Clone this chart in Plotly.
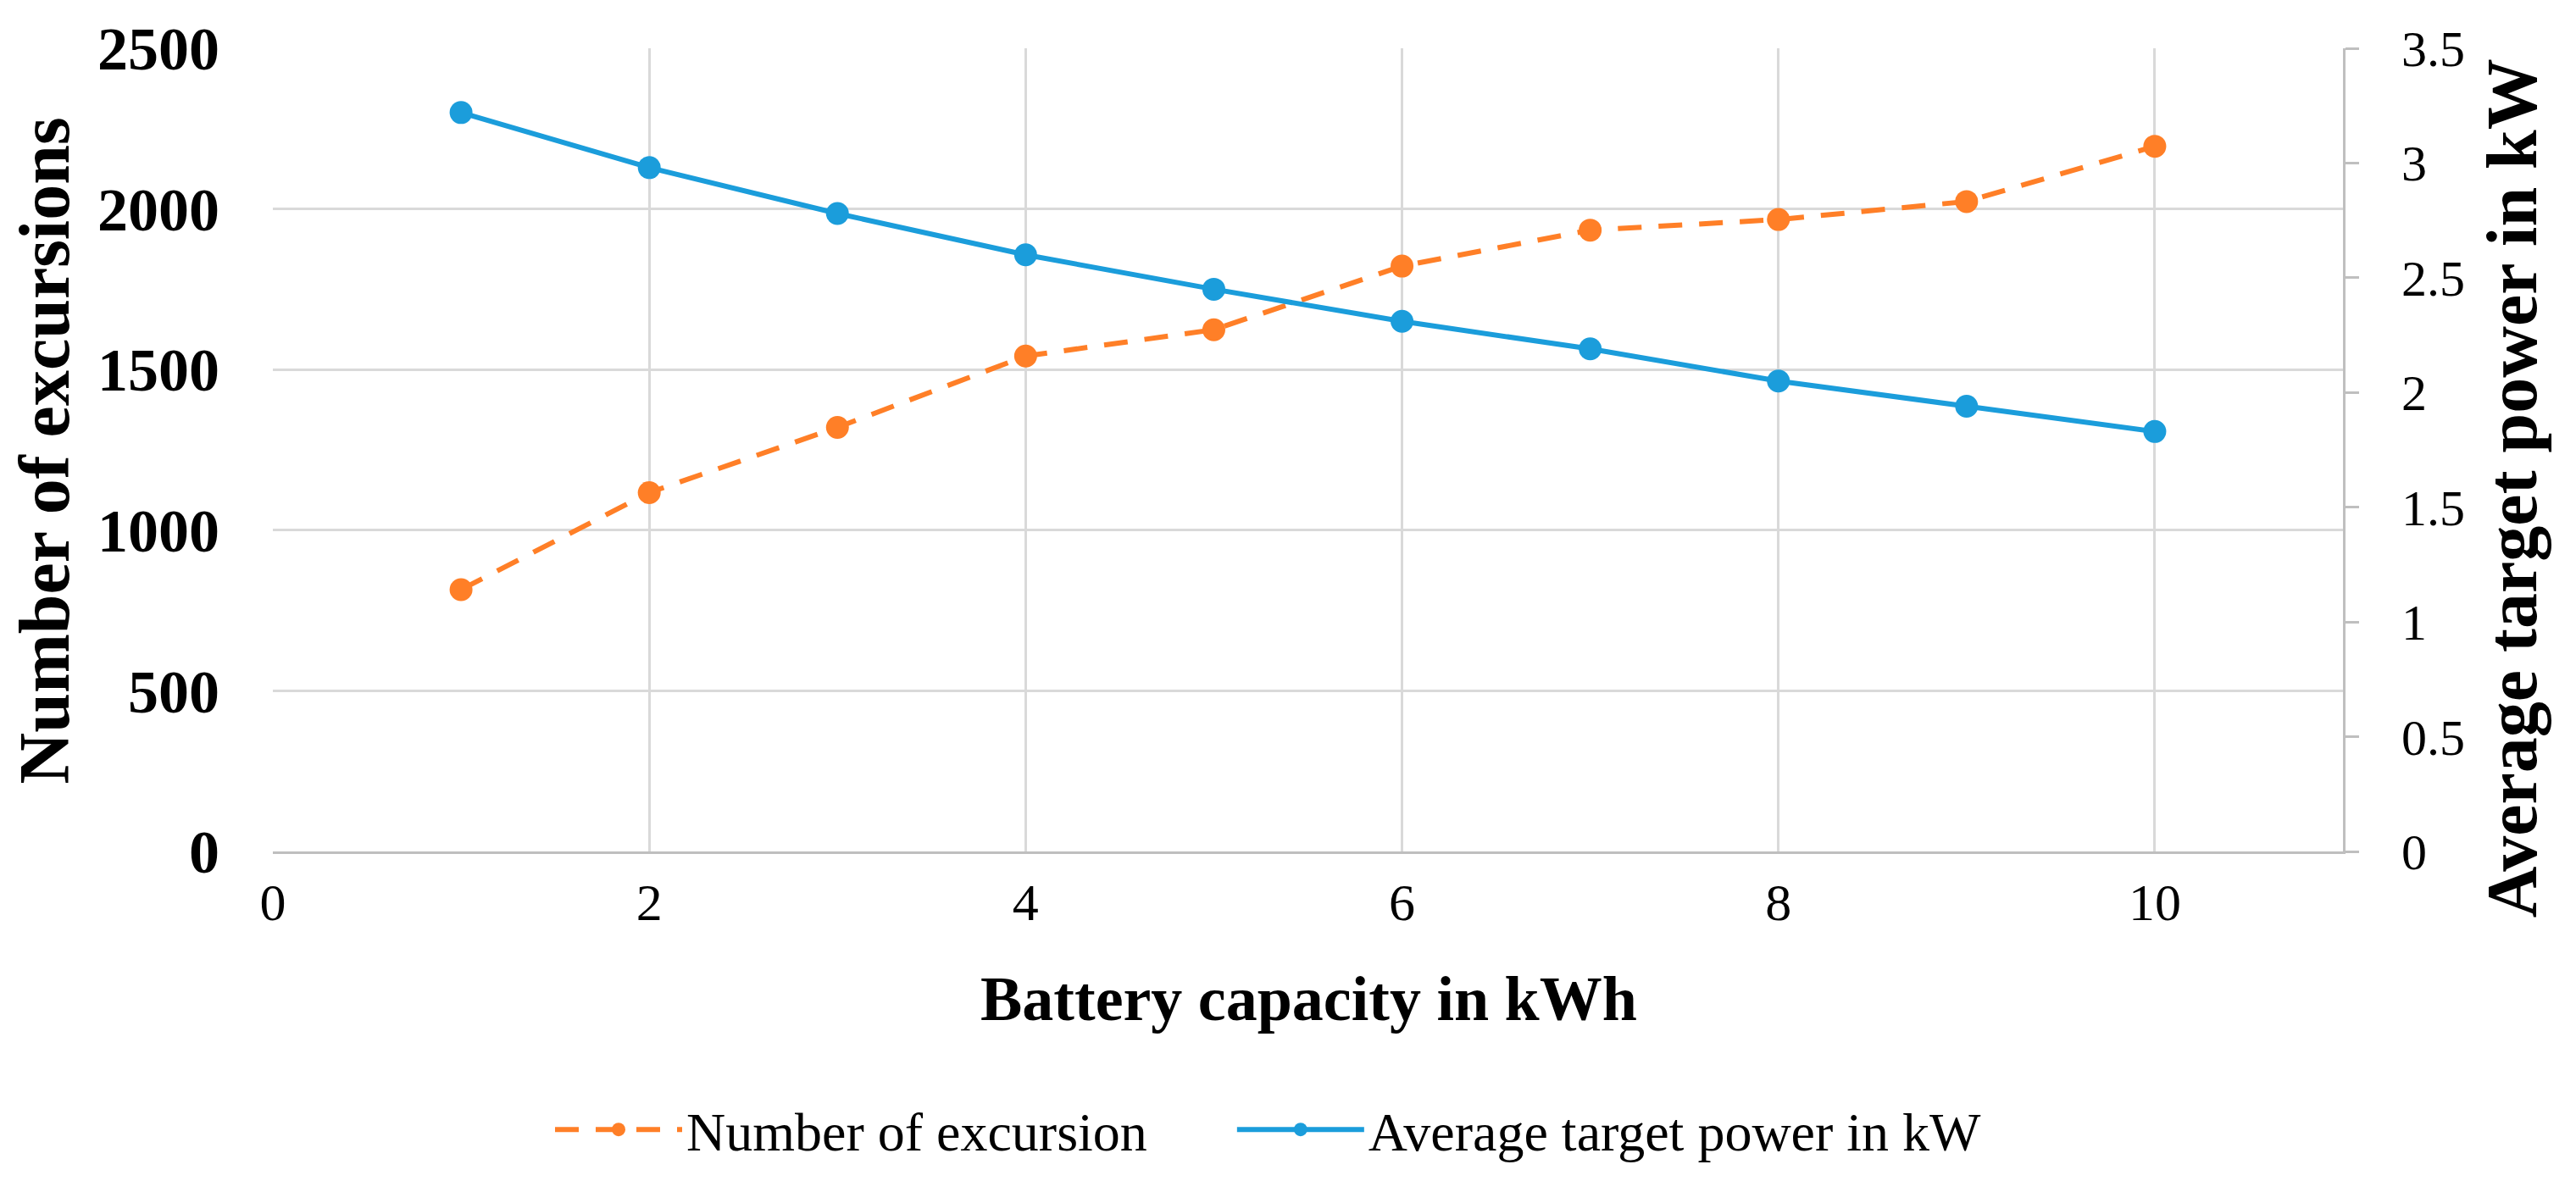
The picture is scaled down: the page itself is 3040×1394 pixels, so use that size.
import plotly.graph_objects as go

# ---- data ----
capacity_kwh = [1, 2, 3, 4, 5, 6, 7, 8, 9, 10]
num_excursions = [815, 1117, 1320, 1542, 1624, 1822, 1934, 1967, 2023, 2195]
avg_target_power_kw = [3.22, 2.98, 2.78, 2.60, 2.45, 2.31, 2.19, 2.05, 1.94, 1.83]

series_names = ["Number of excursion", "Average target power in kW"]
x_ticks = [0, 2, 4, 6, 8, 10]
left_ticks = [0, 500, 1000, 1500, 2000, 2500]
right_ticks = [0, 0.5, 1, 1.5, 2, 2.5, 3, 3.5]

ORANGE = "#FF7F27"
BLUE = "#1B9DDB"
GRID = "#D9D9D9"
AXIS = "#BFBFBF"
FONT = "Liberation Serif"

W, H = 3040, 1394
ML, MR, MT, MB = 322, 275, 57, 382
PW = W - ML - MR
PH = H - MT - MB


def px_x(px):
    return (px - ML) / PW


def px_y(py):
    return (H - MB - py) / PH


fig = go.Figure()
fig.add_trace(go.Scatter(
    x=capacity_kwh, y=num_excursions,
    name=series_names[0] + "\u00a0" * 6,
    mode="lines+markers",
    line=dict(color=ORANGE, width=6, dash="28px,20px"),
    marker=dict(color=ORANGE, size=27),
    yaxis="y",
))
fig.add_trace(go.Scatter(
    x=capacity_kwh, y=avg_target_power_kw, name=series_names[1],
    mode="lines+markers",
    line=dict(color=BLUE, width=6),
    marker=dict(color=BLUE, size=27),
    yaxis="y2",
))

fig.update_layout(
    width=W, height=H,
    margin=dict(l=ML, r=MR, t=MT, b=MB),
    paper_bgcolor="white", plot_bgcolor="white",
    font=dict(family=FONT, color="black", size=60),
    showlegend=True,
    legend=dict(
        orientation="h", x=px_x(1497), y=px_y(1343),
        xanchor="center", yanchor="middle",
        font=dict(family=FONT, size=64, color="black"),
        itemwidth=150,
        bgcolor="rgba(0,0,0,0)",
    ),
    xaxis=dict(
        range=[0, 11], tickvals=x_ticks, ticktext=[str(v) for v in x_ticks],
        showgrid=True, gridcolor=GRID, gridwidth=3,
        zeroline=False, showline=True, linecolor=AXIS, linewidth=3,
        ticks="", ticklabelstandoff=4,
        tickfont=dict(family=FONT, size=62, color="black"),
        fixedrange=True,
    ),
    yaxis=dict(
        range=[0, 2500], tickvals=left_ticks, ticktext=[str(v) for v in left_ticks],
        showgrid=True, gridcolor=GRID, gridwidth=3,
        zeroline=False, showline=False, ticks="", ticklabelstandoff=62,
        tickfont=dict(family=FONT, size=72, color="black", weight="bold"),
        fixedrange=True,
    ),
    yaxis2=dict(
        range=[0, 3.5], tickvals=right_ticks,
        ticktext=[("%g" % v) for v in right_ticks],
        overlaying="y", side="right",
        showgrid=False, zeroline=False,
        showline=True, linecolor=AXIS, linewidth=3,
        ticks="outside", ticklen=16, tickwidth=3, tickcolor=AXIS,
        ticklabelstandoff=38,
        tickfont=dict(family=FONT, size=60, color="black"),
        fixedrange=True,
    ),
    annotations=[
        dict(text="Number of excursions", xref="paper", yref="paper",
             x=px_x(52), y=px_y(536), xanchor="center", yanchor="middle",
             textangle=-90, showarrow=False,
             font=dict(family=FONT, size=84, color="black", weight="bold")),
        dict(text="Average target power in kW", xref="paper", yref="paper",
             x=px_x(2964), y=px_y(580), xanchor="center", yanchor="middle",
             textangle=-90, showarrow=False,
             font=dict(family=FONT, size=84, color="black", weight="bold")),
        dict(text="Battery capacity in kWh", xref="paper", yref="paper",
             x=px_x(1544), y=px_y(1187), xanchor="center", yanchor="middle",
             showarrow=False,
             font=dict(family=FONT, size=74, color="black", weight="bold")),
    ],
)

fig.write_html("out.html", config={"displayModeBar": False},
               post_script="document.body.style.margin='0';")
